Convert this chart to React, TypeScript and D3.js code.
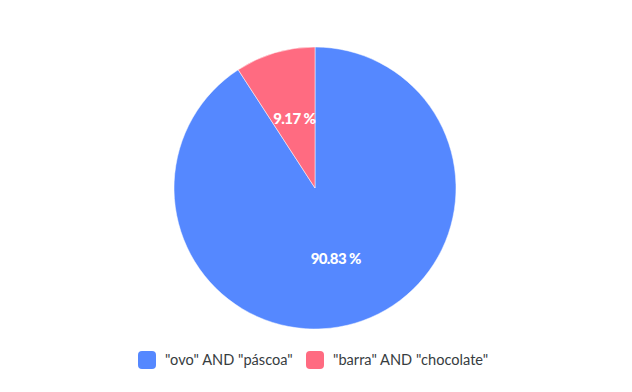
import React from "react";
import * as d3 from "d3";

const categories = ['"ovo" AND "páscoa"', '"barra" AND "chocolate"'];
const values = [90.83, 9.17];
const colors = ["#5588FF", "#FF6B81"];

export default function App() {
  const W = 632, H = 392;
  const cx = 315, cy = 188, r = 141;
  const pie = d3.pie<number>().sort(null).value((d) => d);
  const arcs = pie(values);
  const arcGen = d3.arc<d3.PieArcDatum<number>>().innerRadius(0).outerRadius(r);
  const labelArc = d3.arc<d3.PieArcDatum<number>>().innerRadius(146 * 0.5).outerRadius(146 * 0.5);
  const legendX = [138, 306];
  return (
    <svg width={W} height={H} style={{ position: "absolute", left: 0, top: 0 }} fontFamily="Lato, sans-serif">
      <g transform={`translate(${cx},${cy})`}>
        {arcs.map((a, i) => (
          <path key={i} d={arcGen(a) || ""} fill={colors[i]} stroke="#ffffff" strokeWidth={0.5} />
        ))}
        {arcs.map((a, i) => {
          const [x, y] = labelArc.centroid(a);
          return (
            <text key={i} x={x} y={y} textAnchor="middle" dominantBaseline="central" fill="#fff" fontSize={15} fontWeight={900} letterSpacing={-0.6}>
              {values[i].toFixed(2)} %
            </text>
          );
        })}
      </g>
      {categories.map((c, i) => (
        <g key={i}>
          <rect x={legendX[i]} y={351} width={18} height={18} rx={4} fill={colors[i]} />
          <text x={legendX[i] + 27} y={365} fontSize={14.6} fill="#373d3f">{c}</text>
        </g>
      ))}
    </svg>
  );
}
